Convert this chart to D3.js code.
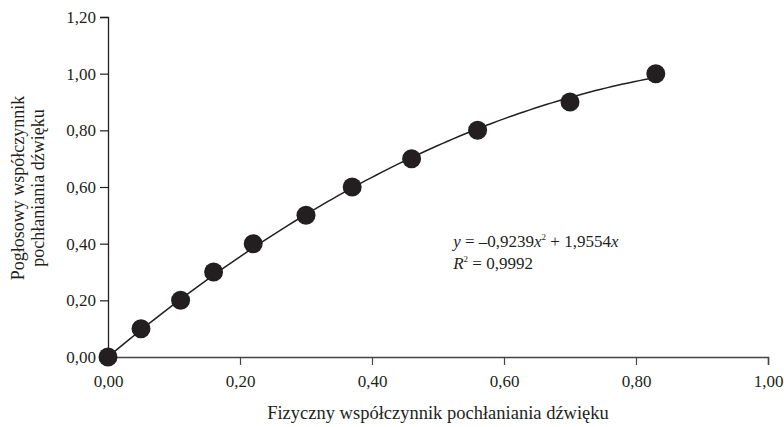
<!DOCTYPE html>
<html>
<head>
<meta charset="utf-8">
<script src="https://cdn.jsdelivr.net/npm/d3@7"></script>
<style>
  body { margin: 0; background: #fff; }
  svg text { font-family: "Liberation Serif", "Times New Roman", serif; fill: #231f20; }
</style>
</head>
<body>
<svg id="view"></svg>
<script>
// measured points (physical vs reverberation absorption coefficient)
const fizyczny = [0.00, 0.05, 0.11, 0.16, 0.22, 0.30, 0.37, 0.46, 0.56, 0.70, 0.83];
const poglosowy = [0.00, 0.10, 0.20, 0.30, 0.40, 0.50, 0.60, 0.70, 0.80, 0.90, 1.00];
const xTicks = [0, 0.2, 0.4, 0.6, 0.8, 1.0];
const yTicks = [0, 0.2, 0.4, 0.6, 0.8, 1.0, 1.2];
// trendline coefficients, as printed on the chart
const trendA = -0.9239, trendB = 1.9554;
const trendR2 = "0,9992";

const width = 784, height = 427;
const margin = {top: 17, right: 16, bottom: 70, left: 108};
const w = width - margin.left - margin.right;
const h = height - margin.top - margin.bottom;

const svg = d3.select('#view')
    .attr('width', width)
    .attr('height', height)
  .append('g')
    .attr('transform', `translate(${margin.left},${margin.top})`);

const x = d3.scaleLinear().domain([0, 1]).range([0, w]);
const y = d3.scaleLinear().domain([0, 1.2]).range([h, 0]);
const fmt = d => d3.format('.2f')(d).replace('.', ',');

// y axis
const yAxis = svg.append('g')
    .call(d3.axisLeft(y).tickValues(yTicks).tickFormat(fmt).tickSize(8).tickPadding(4));
yAxis.select('.domain').attr('stroke', '#231f20').attr('stroke-width', 1.3);
yAxis.selectAll('.tick line').attr('stroke', '#231f20').attr('stroke-width', 1.2);
yAxis.selectAll('.tick text').style('font-size', '17px').attr('font-family', null);

// x axis
const xAxis = svg.append('g')
    .attr('transform', `translate(0,${h})`)
    .call(d3.axisBottom(x).tickValues(xTicks).tickFormat(fmt).tickSize(8).tickPadding(10));
xAxis.select('.domain').attr('stroke', '#444').attr('stroke-width', 1.5);
xAxis.selectAll('.tick line').attr('stroke', '#444').attr('stroke-width', 1.2);
xAxis.selectAll('.tick text').style('font-size', '17px').attr('font-family', null);

// trendline y = a x^2 + b x, over the measured range
const xs = d3.range(0, 101).map(i => d3.max(fizyczny) * i / 100);
const line = d3.line()
    .x(d => x(d))
    .y(d => y(trendA * d * d + trendB * d));
svg.append('path')
    .datum(xs)
    .attr('fill', 'none')
    .attr('stroke', '#231f20')
    .attr('stroke-width', 1.5)
    .attr('d', line);

// points
svg.selectAll('.dot')
    .data(fizyczny.map((d, i) => ({x: d, y: poglosowy[i]})))
    .enter()
    .append('circle')
    .attr('class', 'dot')
    .attr('cx', d => x(d.x))
    .attr('cy', d => y(d.y))
    .attr('r', 9.5)
    .attr('fill', '#231f20');

// equation
const eqX = x(0.523), eqY = y(0.397) + 2;
const eq = svg.append('text')
    .attr('x', eqX)
    .attr('y', eqY)
    .style('font-size', '17px');
eq.append('tspan').attr('font-style', 'italic').text('y');
eq.append('tspan').text(' = –' + d3.format('.4f')(-trendA).replace('.', ','));
eq.append('tspan').attr('font-style', 'italic').text('x');
eq.append('tspan').attr('dy', -7).style('font-size', '9px').text('2');
eq.append('tspan').attr('dy', 7).text(' + ' + d3.format('.4f')(trendB).replace('.', ','));
eq.append('tspan').attr('font-style', 'italic').text('x');

const r2 = svg.append('text')
    .attr('x', eqX)
    .attr('y', eqY + 22)
    .style('font-size', '17px');
r2.append('tspan').attr('font-style', 'italic').text('R');
r2.append('tspan').attr('dy', -7).style('font-size', '9px').text('2');
r2.append('tspan').attr('dy', 7).text(' = ' + trendR2);

// axis titles
svg.append('text')
    .attr('x', w / 2)
    .attr('y', h + 62)
    .attr('text-anchor', 'middle')
    .style('font-size', '18.5px')
    .text('Fizyczny współczynnik pochłaniania dźwięku');

const yTitle = svg.append('text')
    .attr('transform', `translate(${-84},${y(0.6) + 1}) rotate(-90)`)
    .attr('text-anchor', 'middle')
    .style('font-size', '18px');
yTitle.append('tspan').attr('x', 0).attr('y', 0).text('Pogłosowy współczynnik');
yTitle.append('tspan').attr('x', 0).attr('y', 20).text('pochłaniania dźwięku');
</script>
</body>
</html>
